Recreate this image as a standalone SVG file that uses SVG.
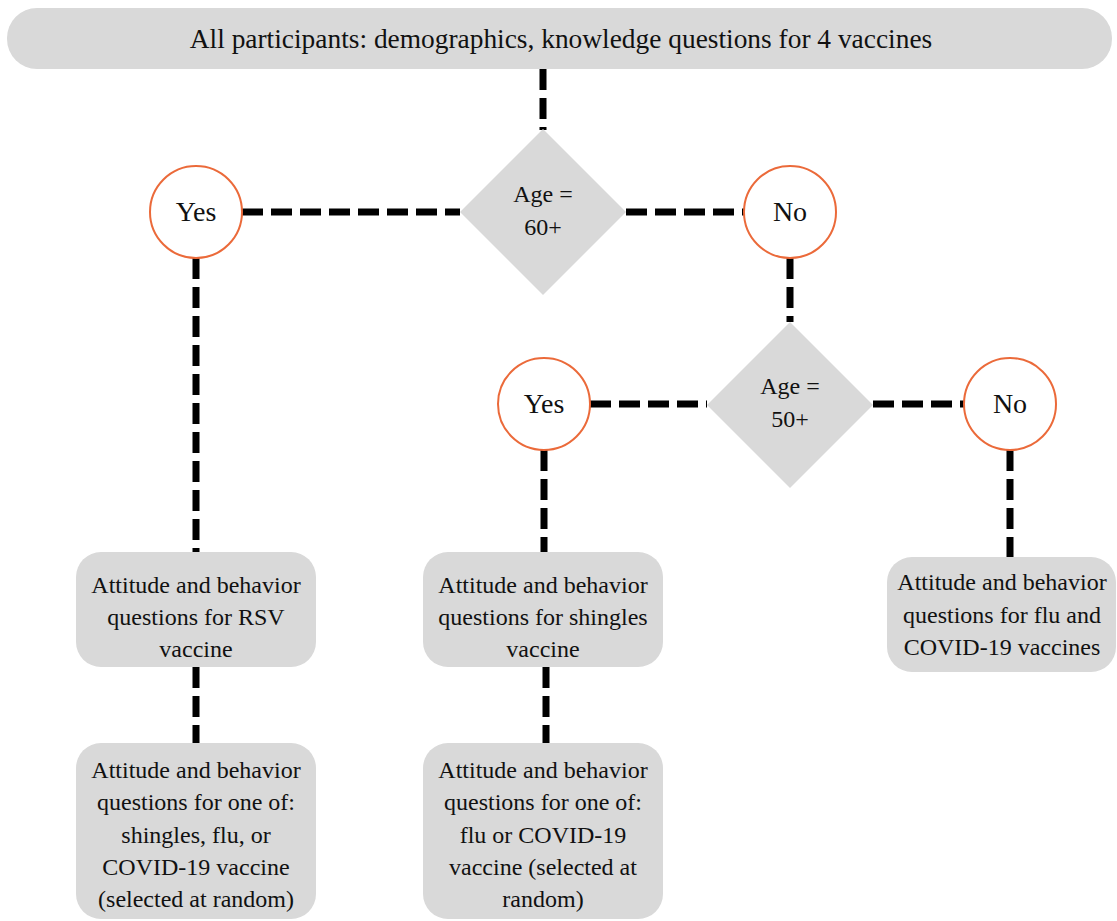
<svg xmlns="http://www.w3.org/2000/svg" width="1117" height="921" viewBox="0 0 1117 921">
  <style>
    .box { fill: #d9d9d9; }
    .dia { fill: #d9d9d9; }
    .circ { fill: #ffffff; stroke: #eb6a3a; stroke-width: 2; }
    text { font-family: 'Liberation Serif', 'DejaVu Serif', serif; fill: #111111; text-anchor: middle; }
    .tb { font-size: 24px; }
    .tc { font-size: 28px; }
    .td { font-size: 24px; }
    .conn line { stroke: #000000; stroke-width: 7; stroke-dasharray: 21 8; fill: none; }
  </style>
  <rect width="1117" height="921" fill="#ffffff"/>
  <g id="connectors" class="conn">
    <line x1="543" y1="69" x2="543" y2="130"/>
    <line x1="242" y1="212" x2="460" y2="212"/>
    <line x1="626" y1="212" x2="744" y2="212"/>
    <line x1="196" y1="258" x2="196" y2="552"/>
    <line x1="790" y1="258" x2="790" y2="322"/>
    <line x1="590" y1="404" x2="707" y2="404"/>
    <line x1="873" y1="404" x2="964" y2="404"/>
    <line x1="544" y1="450" x2="544" y2="552"/>
    <line x1="196" y1="667" x2="196" y2="743"/>
    <line x1="546" y1="667" x2="546" y2="743"/>
    <line x1="1010" y1="450" x2="1010" y2="557"/>
  </g>
  <g id="top">
    <rect class="box" x="7" y="8" width="1105" height="61" rx="30"/>
    <text x="561" y="48" font-size="27.4">All participants: demographics, knowledge questions for 4 vaccines</text>
  </g>
  <g id="age60">
    <polygon class="dia" points="543,129 626,212 543,295 460,212"/>
    <text class="td" x="543" y="202">Age =</text>
    <text class="td" x="543" y="235">60+</text>
  </g>
  <g id="yes1">
    <circle class="circ" cx="196" cy="212" r="46"/>
    <text class="tc" x="196" y="221">Yes</text>
  </g>
  <g id="no1">
    <circle class="circ" cx="790" cy="212" r="46"/>
    <text class="tc" x="790" y="221">No</text>
  </g>
  <g id="age50">
    <polygon class="dia" points="790,322 873,405 790,488 707,405"/>
    <text class="td" x="790" y="394">Age =</text>
    <text class="td" x="790" y="427">50+</text>
  </g>
  <g id="yes2">
    <circle class="circ" cx="544" cy="404" r="46"/>
    <text class="tc" x="544" y="413">Yes</text>
  </g>
  <g id="no2">
    <circle class="circ" cx="1010" cy="404" r="46"/>
    <text class="tc" x="1010" y="413">No</text>
  </g>
  <g id="rsv">
    <rect class="box" x="76" y="552" width="240" height="115" rx="25"/>
    <text class="tb" x="196" y="593">Attitude and behavior</text>
    <text class="tb" x="196" y="625">questions for RSV</text>
    <text class="tb" x="196" y="657">vaccine</text>
  </g>
  <g id="rsv-random">
    <rect class="box" x="76" y="743" width="240" height="176" rx="25"/>
    <text class="tb" x="196" y="778">Attitude and behavior</text>
    <text class="tb" x="196" y="810">questions for one of:</text>
    <text class="tb" x="196" y="843">shingles, flu, or</text>
    <text class="tb" x="196" y="875">COVID-19 vaccine</text>
    <text class="tb" x="196" y="907">(selected at random)</text>
  </g>
  <g id="shingles">
    <rect class="box" x="423" y="552" width="240" height="115" rx="25"/>
    <text class="tb" x="543" y="593">Attitude and behavior</text>
    <text class="tb" x="543" y="625">questions for shingles</text>
    <text class="tb" x="543" y="657">vaccine</text>
  </g>
  <g id="shingles-random">
    <rect class="box" x="423" y="743" width="240" height="176" rx="25"/>
    <text class="tb" x="543" y="778">Attitude and behavior</text>
    <text class="tb" x="543" y="810">questions for one of:</text>
    <text class="tb" x="543" y="843">flu or COVID-19</text>
    <text class="tb" x="543" y="875">vaccine (selected at</text>
    <text class="tb" x="543" y="907">random)</text>
  </g>
  <g id="flu-covid">
    <rect class="box" x="887" y="557" width="229" height="115" rx="25"/>
    <text class="tb" x="1002" y="590">Attitude and behavior</text>
    <text class="tb" x="1002" y="623">questions for flu and</text>
    <text class="tb" x="1002" y="655">COVID-19 vaccines</text>
  </g>
</svg>
